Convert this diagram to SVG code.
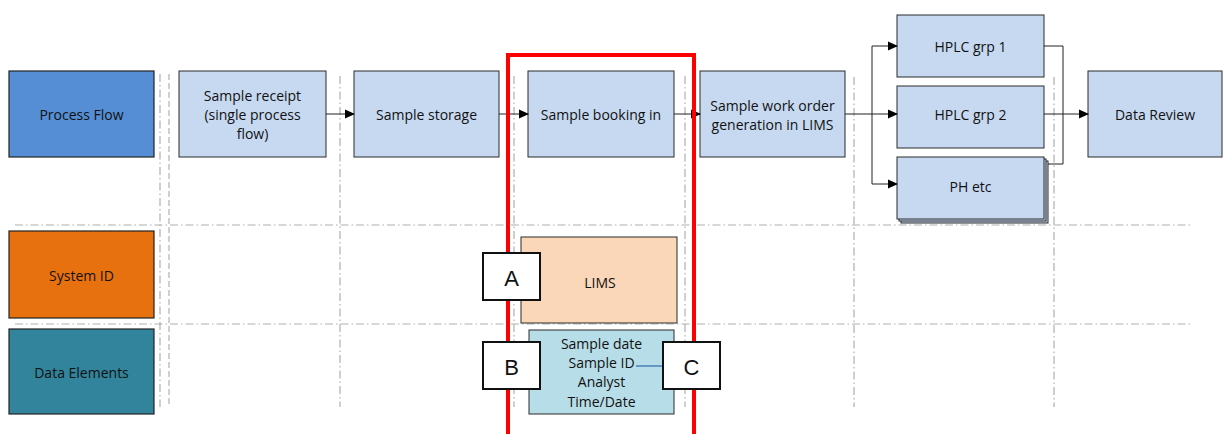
<svg xmlns="http://www.w3.org/2000/svg" width="1223" height="434" viewBox="0 0 1223 434">
<style>
text{font-family:"Open Sans","Liberation Sans",sans-serif;font-size:14px;fill:#111;text-anchor:middle;dominant-baseline:central}
.grid{stroke:#b0b0b0;stroke-width:1.2;stroke-dasharray:8 3 1.5 3;fill:none}
.pb{fill:#c6d9f1;stroke:#2b2b2b;stroke-width:1}
.con{stroke:#222;stroke-width:1;fill:none}
.lbl{stroke:#222;stroke-width:1.2}
.abc{fill:#fff;stroke:#111;stroke-width:2}
.big{font-family:"Liberation Sans",Arial,sans-serif;font-size:22px}
</style>
<defs>
<marker id="ar" markerWidth="10" markerHeight="10" refX="9" refY="5" orient="auto" markerUnits="userSpaceOnUse">
<path d="M0,0.5 L10,5 L0,9.5 Z" fill="#000"/>
</marker>
</defs>
<g id="grid">
<line class="grid" x1="15" y1="225" x2="1190" y2="225"/>
<line class="grid" x1="15" y1="324" x2="1190" y2="324"/>
<line class="grid" x1="160" y1="74" x2="160" y2="407"/>
<line class="grid" x1="169" y1="74" x2="169" y2="407" style="stroke-dasharray:6 3"/>
<line class="grid" x1="340" y1="76" x2="340" y2="407"/>
<line class="grid" x1="514" y1="76" x2="514" y2="407"/>
<line class="grid" x1="685" y1="76" x2="685" y2="407"/>
<line class="grid" x1="854" y1="77" x2="854" y2="407"/>
<line class="grid" x1="1054" y1="77" x2="1054" y2="407"/>
</g>
<g id="process-flow"><rect x="9" y="71" width="145" height="86" fill="#558ed5" class="lbl"/><text x="81.5" y="114">Process Flow</text></g>
<g id="system-id"><rect x="9" y="231" width="145" height="87" fill="#e8710f" class="lbl"/><text x="81.5" y="275">System ID</text></g>
<g id="data-elements"><rect x="9" y="329" width="145" height="85" fill="#31849b" class="lbl"/><text x="81.5" y="372">Data Elements</text></g>
<g id="sample-receipt"><rect class="pb" x="179" y="71" width="147" height="86"/><text x="252.5" y="95">Sample receipt</text><text x="252.5" y="114">(single process</text><text x="252.5" y="133">flow)</text></g>
<g id="sample-storage"><rect class="pb" x="354" y="71" width="145" height="86"/><text x="426.5" y="114">Sample storage</text></g>
<g id="sample-booking"><rect class="pb" x="528" y="71" width="146" height="86"/><text x="601" y="114">Sample booking in</text></g>
<g id="work-order"><rect class="pb" x="700" y="71" width="145" height="86"/><text x="772.5" y="105">Sample work order</text><text x="772.5" y="124">generation in LIMS</text></g>
<g id="hplc1"><rect class="pb" x="897" y="15" width="147" height="62"/><text x="970.5" y="46">HPLC grp 1</text></g>
<g id="hplc2"><rect class="pb" x="897" y="86" width="147" height="62"/><text x="970.5" y="114">HPLC grp 2</text></g>
<g id="ph-etc"><rect class="pb" x="901" y="161" width="147" height="62"/><rect class="pb" x="899" y="159" width="147" height="62"/><rect class="pb" x="897" y="157" width="147" height="62"/><text x="970.5" y="186">PH etc</text></g>
<g id="data-review"><rect class="pb" x="1088" y="71" width="134" height="86"/><text x="1155" y="114">Data Review</text></g>
<g id="lims"><rect x="521" y="237" width="156" height="86" fill="#fad7b8" stroke="#2b2b2b"/><text x="600" y="282">LIMS</text></g>
<g id="data-box"><rect x="529" y="330" width="145" height="84" fill="#b7dde8" stroke="#2b2b2b"/><text x="601.5" y="343">Sample date</text><text x="601.5" y="362">Sample ID</text><text x="601.5" y="381">Analyst</text><text x="601.5" y="401">Time/Date</text></g>
<g id="connectors">
<line class="con" x1="326" y1="114" x2="354" y2="114" marker-end="url(#ar)"/>
<line class="con" x1="499" y1="114" x2="528" y2="114" marker-end="url(#ar)"/>
<line class="con" x1="674" y1="114" x2="700" y2="114" marker-end="url(#ar)"/>
<line class="con" x1="845" y1="114" x2="897" y2="114" marker-end="url(#ar)"/>
<polyline class="con" points="872,114 872,46 897,46" marker-end="url(#ar)"/>
<polyline class="con" points="872,114 872,184 897,184" marker-end="url(#ar)"/>
<polyline class="con" points="1044,46 1063,46 1063,164 1048,164"/>
<line class="con" x1="1044" y1="114" x2="1088" y2="114" marker-end="url(#ar)"/>
<line x1="636" y1="366" x2="663" y2="366" stroke="#4a7ebb" stroke-width="1.5"/>
</g>
<g id="highlight"><path d="M508,436 L508,55 L694,55 L694,436" fill="none" stroke="#ff0000" stroke-width="4"/></g>
<g id="marker-a"><rect class="abc" x="483" y="253" width="57" height="47"/><text class="big" x="511.5" y="278">A</text></g>
<g id="marker-b"><rect class="abc" x="483" y="342" width="57" height="47"/><text class="big" x="511.5" y="367">B</text></g>
<g id="marker-c"><rect class="abc" x="663" y="342" width="57" height="47"/><text class="big" x="691.5" y="367">C</text></g>
</svg>
